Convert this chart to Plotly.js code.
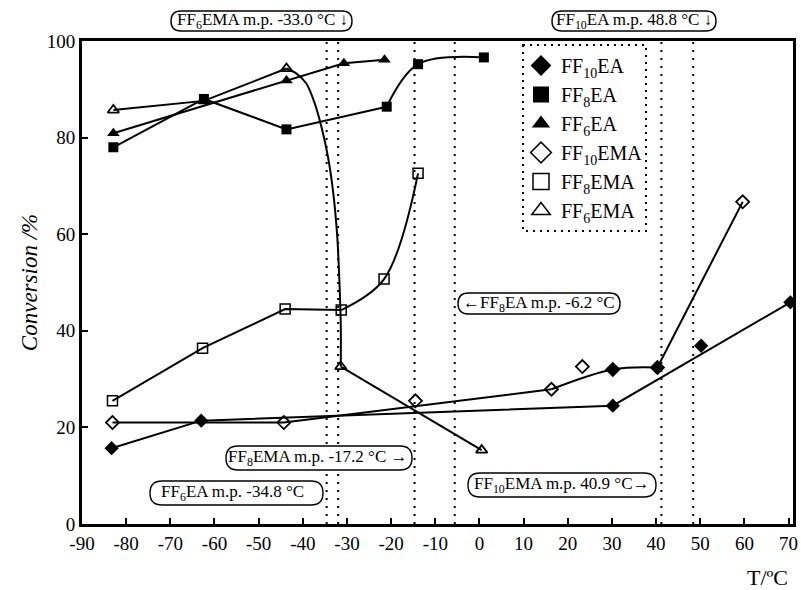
<!DOCTYPE html>
<html>
<head>
<meta charset="utf-8">
<script src="https://cdn.plot.ly/plotly-3.0.1.min.js"></script>
<style>html,body{margin:0;padding:0;background:#fff;}#chart{width:801px;height:590px;}</style>
</head>
<body>
<div id="chart"></div>
<script>
// ---- data ----
const xTicks = [-90, -80, -70, -60, -50, -40, -30, -20, -10, 0, 10, 20, 30, 40, 50, 60, 70];
const yTicks = [0, 20, 40, 60, 80, 100];

const ff10eaT = [-83.3, -63.0, 30.2, 50.2, 70.4];
const ff10eaC = [15.7, 21.4, 24.5, 36.9, 45.9];

const ff8eaT = [-82.9, -62.4, -43.7, -21.0, -13.9, 1.0];
const ff8eaC = [78.0, 88.0, 81.7, 86.4, 95.2, 96.6];

const ff6eaT = [-82.9, -43.7, -30.7, -21.5];
const ff6eaC = [80.9, 91.8, 95.4, 96.1];

const ff10emaT = [-83.1, -44.3, -14.5, 16.3, 23.3, 30.2, 40.3, 59.6];
const ff10emaC = [21.0, 21.0, 25.5, 27.9, 32.6, 32.0, 32.4, 66.7];

const ff8emaT = [-83.1, -62.7, -44.0, -31.3, -21.6, -13.9];
const ff8emaC = [25.5, 36.4, 44.5, 44.3, 50.7, 72.6];

const ff6emaT = [-82.9, -62.4, -43.7, -31.4, 0.5];
const ff6emaC = [85.7, 87.6, 94.3, 32.6, 15.3];

// points (between -43.7 and -31.4)
const ff6emaCurveT = [-43.7, -41.5, -39.2, -37.3, -35.8, -34.3, -33.1, -32.2, -31.7, -31.4, -31.4];
const ff6emaCurveC = [94.3, 93.3, 91.2, 87.1, 82.3, 76.0, 68.5, 59.5, 50.0, 41.0, 32.6];

// melting point guide lines (positions as drawn)
const mpLines = [-34.6, -32.0, -14.7, -5.6, 41.2, 48.4];

const legendNames = ['FF<sub>10</sub>EA', 'FF<sub>8</sub>EA', 'FF<sub>6</sub>EA', 'FF<sub>10</sub>EMA', 'FF<sub>8</sub>EMA', 'FF<sub>6</sub>EMA'];
const mpLabels = [
  'FF<sub>6</sub>EMA m.p. -33.0 °C ↓',
  'FF<sub>10</sub>EA m.p. 48.8 °C ↓',
  '←FF<sub>8</sub>EA m.p. -6.2 °C',
  'FF<sub>8</sub>EMA m.p. -17.2 °C →',
  'FF<sub>6</sub>EA m.p. -34.8 °C',
  'FF<sub>10</sub>EMA m.p. 40.9 °C→'
];

// ---- helpers ----
function pick(arr, idx) { return idx.map(i => arr[i]); }
const FONT = 'Liberation Serif';
const LW = 2;

function lineTrace(xs, ys, shape, smooth) {
  return {x: xs, y: ys, mode: 'lines', type: 'scatter', showlegend: false, hoverinfo: 'skip',
          line: {color: '#000', width: LW, shape: shape || 'linear', smoothing: smooth || 1.0}};
}
function markTrace(xs, ys, symbol, size, lw) {
  return {x: xs, y: ys, mode: 'markers', type: 'scatter', showlegend: false,
          marker: {symbol: symbol, size: size, color: '#000', line: {color: '#000', width: lw || 0}}};
}
function legendTrace(name, symbol, size, lw) {
  return {x: [null], y: [null], mode: 'markers', type: 'scatter', name: name, showlegend: true,
          marker: {symbol: symbol, size: size, color: '#000', line: {color: '#000', width: lw || 0}}};
}

const traces = [];
// FF10EA
traces.push(lineTrace(pick(ff10eaT, [0, 1, 2, 4]), pick(ff10eaC, [0, 1, 2, 4])));
// FF8EA
traces.push(lineTrace(pick(ff8eaT, [0, 1, 2, 3]), pick(ff8eaC, [0, 1, 2, 3])));
traces.push(lineTrace(pick(ff8eaT, [3, 4, 5]), pick(ff8eaC, [3, 4, 5]), 'spline'));
// FF6EA
traces.push(lineTrace(ff6eaT, ff6eaC));
// FF10EMA
traces.push(lineTrace(pick(ff10emaT, [0, 1, 3]), pick(ff10emaC, [0, 1, 3])));
traces.push(lineTrace(pick(ff10emaT, [3, 5, 6]), pick(ff10emaC, [3, 5, 6]), 'spline'));
traces.push(lineTrace(pick(ff10emaT, [6, 7]), pick(ff10emaC, [6, 7])));
// FF8EMA
traces.push(lineTrace(pick(ff8emaT, [0, 1, 2, 3]), pick(ff8emaC, [0, 1, 2, 3])));
traces.push(lineTrace(pick(ff8emaT, [3, 4, 5]), pick(ff8emaC, [3, 4, 5]), 'spline'));
// FF6EMA
traces.push(lineTrace(pick(ff6emaT, [0, 1, 2]), pick(ff6emaC, [0, 1, 2])));
traces.push(lineTrace(ff6emaCurveT, ff6emaCurveC, 'spline', 0.8));
traces.push(lineTrace(pick(ff6emaT, [3, 4]), pick(ff6emaC, [3, 4])));

// markers
const emaDiamondSymbols = ff10emaT.map((t, i) => (i === 5 || i === 6) ? 'diamond' : 'diamond-open');
traces.push(markTrace(ff6emaT, ff6emaC, 'triangle-up-open', 10, 1.8));
traces.push(markTrace(ff8emaT, ff8emaC, 'square-open', 10, 1.5));
traces.push(markTrace(ff10emaT, ff10emaC, emaDiamondSymbols, 10, 1.8));
traces.push(markTrace(ff6eaT, ff6eaC, 'triangle-up', 11, 0));
traces.push(markTrace(ff8eaT, ff8eaC, 'square', 10, 0));
traces.push(markTrace(ff10eaT, ff10eaC, 'diamond', 11, 0));

// legend entries
const legSymbols = ['diamond', 'square', 'triangle-up', 'diamond-open', 'square-open', 'triangle-up-open'];
const legLw = [0, 0, 0, 1.5, 1.5, 1.5];
legendNames.forEach((n, i) => traces.push(legendTrace(n, legSymbols[i], 16, legLw[i])));

// ---- geometry in pixels (plot area) ----
const ML = 82, MR = 8, MT = 41, MB = 66, FW = 801, FH = 590;
const PW = FW - ML - MR, PH = FH - MT - MB;
const px = p => (p - ML) / PW;
const py = p => (FH - MB - p) / PH;

function pill(x0, y0, x1, y1) {
  const r = (y1 - y0) / 2;
  const P = (a, b) => px(a).toFixed(5) + ',' + py(b).toFixed(5);
  const d = 'M' + P(x0 + r, y0) + ' L' + P(x1 - r, y0) +
    ' Q' + P(x1, y0) + ' ' + P(x1, y0 + r) +
    ' Q' + P(x1, y1) + ' ' + P(x1 - r, y1) +
    ' L' + P(x0 + r, y1) +
    ' Q' + P(x0, y1) + ' ' + P(x0, y0 + r) +
    ' Q' + P(x0, y0) + ' ' + P(x0 + r, y0) + ' Z';
  return {type: 'path', xref: 'paper', yref: 'paper', path: d, fillcolor: '#fff',
          line: {color: '#000', width: 1.4}, layer: 'above'};
}

const boxes = [
  [171, 11, 352, 31],
  [552, 11, 716, 31],
  [458, 293, 620, 314],
  [226, 446, 412, 470],
  [150, 481, 323, 505],
  [468, 473, 656, 497]
];
const textCx = [262, 634, 539, 318, 232, 562];

const shapes = [];
mpLines.forEach(v => shapes.push({type: 'line', xref: 'x', yref: 'paper', x0: v, x1: v, y0: 0, y1: 1,
  line: {color: '#000', width: 2, dash: '2px,6px'}, layer: 'below'}));
boxes.forEach(b => shapes.push(pill(b[0], b[1], b[2], b[3])));
// dotted legend frame
shapes.push({type: 'rect', xref: 'paper', yref: 'paper', x0: px(523), x1: px(646), y0: py(45), y1: py(231),
  line: {color: '#000', width: 2, dash: '2px,5px'}, fillcolor: 'rgba(0,0,0,0)', layer: 'above'});

const annotations = mpLabels.map((t, i) => ({
  text: t, xref: 'paper', yref: 'paper', x: px(textCx[i]), y: py((boxes[i][1] + boxes[i][3]) / 2),
  xanchor: 'center', yanchor: 'middle', showarrow: false, font: {family: FONT, size: 17, color: '#000'}
}));
annotations.push({text: 'T/ºC', xref: 'paper', yref: 'paper', x: px(790), y: py(577), xanchor: 'right', yanchor: 'middle',
  showarrow: false, font: {family: FONT, size: 22, color: '#000'}});

const layout = {
  width: FW, height: FH,
  margin: {l: ML, r: MR, t: MT, b: MB},
  paper_bgcolor: '#fff', plot_bgcolor: '#fff',
  font: {family: FONT, color: '#000'},
  showlegend: true,
  legend: {x: px(521), y: py(46), xanchor: 'left', yanchor: 'top', bgcolor: 'rgba(0,0,0,0)', borderwidth: 0,
           font: {family: FONT, size: 20, color: '#000'}, tracegroupgap: 0, itemwidth: 30},
  xaxis: {range: [-90, 71], tickvals: xTicks, ticktext: xTicks.map(String), ticks: 'inside', ticklen: 6, tickwidth: 2,
          tickcolor: '#000', showline: true, linecolor: '#000', linewidth: 3, mirror: true,
          showgrid: false, zeroline: false, tickfont: {family: FONT, size: 19, color: '#000'}},
  yaxis: {range: [0, 100], tickvals: yTicks, ticks: 'inside', ticklen: 6, tickwidth: 2,
          tickcolor: '#000', showline: true, linecolor: '#000', linewidth: 3, mirror: true,
          showgrid: false, zeroline: false, tickfont: {family: FONT, size: 19, color: '#000'},
          title: {text: '<i>Conversion /%</i>', font: {family: FONT, size: 23, color: '#000'}, standoff: 3}},
  shapes: shapes,
  annotations: annotations
};

Plotly.newPlot('chart', traces, layout, {staticPlot: true, displayModeBar: false});
</script>
</body>
</html>
